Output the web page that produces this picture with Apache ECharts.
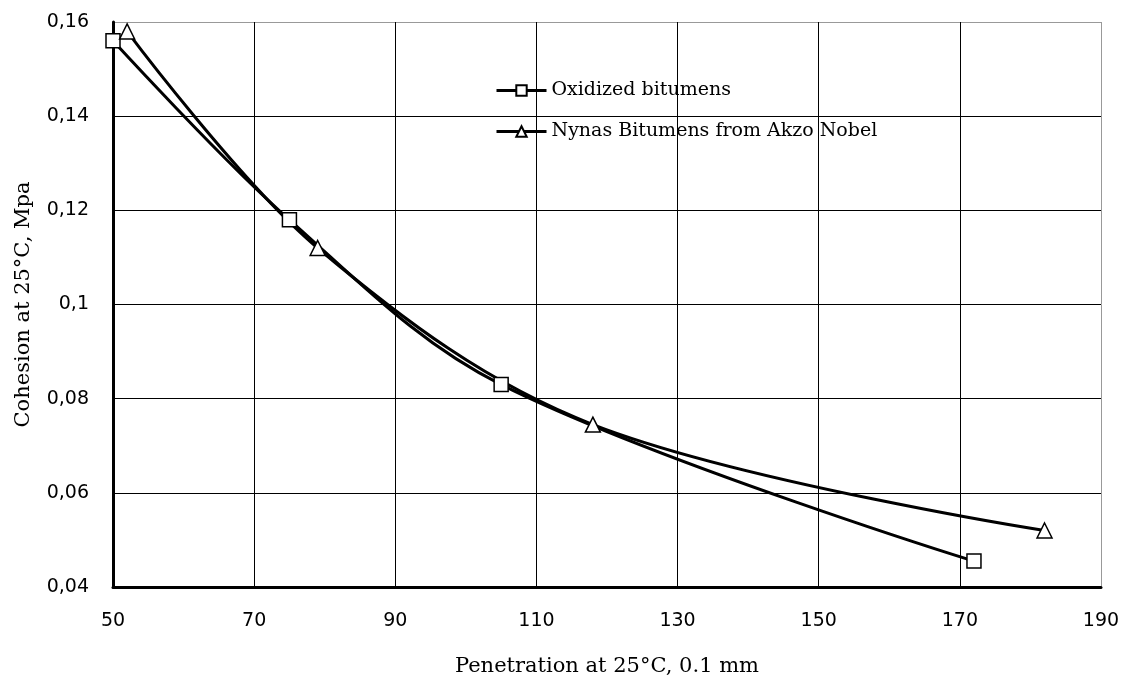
<!DOCTYPE html>
<html><head><meta charset="utf-8">
<script src="https://cdn.jsdelivr.net/npm/echarts@6/dist/echarts.min.js"></script>
<style>html,body{margin:0;padding:0;background:#fff}#c{width:1126px;height:684px}</style>
</head><body><div id="c"></div>
<script>
const oxidizedX = [50, 75, 105, 172];
const oxidizedY = [0.156, 0.118, 0.083, 0.0455];
const nynasX = [52, 79, 118, 182];
const nynasY = [0.158, 0.112, 0.0745, 0.052];
const seriesNames = ['Oxidized bitumens', 'Nynas Bitumens from Akzo Nobel'];
const xTitle = 'Penetration at 25°C, 0.1 mm';
const yTitle = 'Cohesion at 25°C, Mpa';

const chart = echarts.init(document.getElementById('c'));
const pairs = (xs, ys) => xs.map((x, i) => [x, ys[i]]);
const mk = (name, data, sym) => ({
  name, type: 'line', data, smooth: 0.35,
  symbol: sym, symbolSize: sym === 'triangle' ? 15 : 14,
  lineStyle: {color: '#000', width: 3},
  itemStyle: {color: '#fff', borderColor: '#000', borderWidth: 1.5},
  emphasis: {disabled: true}
});
const grayLast = (n) => Array.from({length: n}, (_, i) => i === n - 1 ? '#999' : '#000');
chart.setOption({
  animation: false,
  backgroundColor: '#fff',
  grid: {left: 113, right: 25, top: 22, bottom: 97, show: false},
  legend: {
    orient: 'vertical', left: 490, top: 76, itemGap: 22, itemWidth: 50, itemHeight: 13,
    lineStyle: {width: 3},
    textStyle: {fontFamily: 'DejaVu Serif', fontSize: 19, color: '#000'},
    data: seriesNames
  },
  xAxis: {
    type: 'value', min: 50, max: 190, interval: 20,
    name: xTitle, nameLocation: 'middle', nameGap: 69,
    nameTextStyle: {fontFamily: 'DejaVu Serif', fontSize: 21, color: '#000'},
    axisLine: {lineStyle: {color: '#000', width: 3}},
    axisTick: {show: false},
    axisLabel: {fontFamily: 'DejaVu Sans', fontSize: 19, color: '#000', margin: 25},
    splitLine: {show: true, lineStyle: {color: grayLast(8), width: 1}}
  },
  yAxis: {
    type: 'value', min: 0.04, max: 0.16, interval: 0.02,
    name: yTitle, nameLocation: 'middle', nameGap: 79,
    nameTextStyle: {fontFamily: 'DejaVu Serif', fontSize: 21, color: '#000'},
    axisLine: {lineStyle: {color: '#000', width: 3}},
    axisTick: {show: false},
    axisLabel: {fontFamily: 'DejaVu Sans', fontSize: 19, color: '#000', margin: 24,
      formatter: v => String(parseFloat(v.toFixed(2))).replace('.', ',')},
    splitLine: {show: true, lineStyle: {color: grayLast(7), width: 1}}
  },
  series: [
    mk(seriesNames[0], pairs(oxidizedX, oxidizedY), 'rect'),
    mk(seriesNames[1], pairs(nynasX, nynasY), 'triangle')
  ]
});
</script></body></html>
